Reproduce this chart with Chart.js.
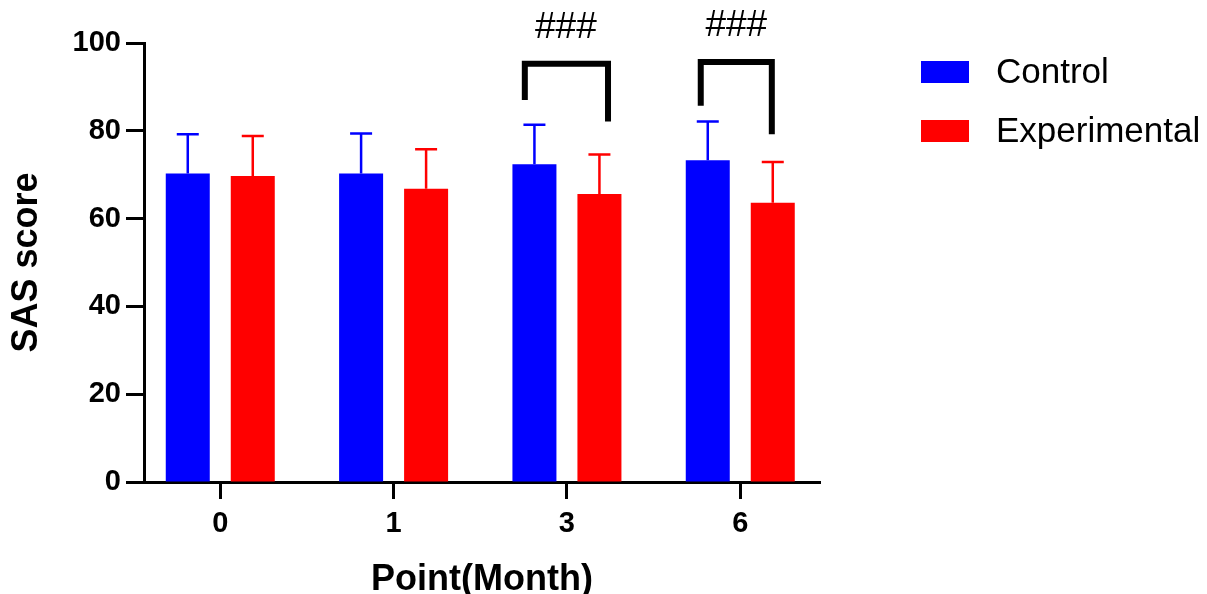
<!DOCTYPE html>
<html><head><meta charset="utf-8">
<script src="https://cdn.jsdelivr.net/npm/chart.js@4"></script>
<style>html,body{margin:0;padding:0;background:#fff}#wrap{width:1207px;height:594px;position:relative}</style>
</head><body><div id="wrap"><canvas id="c" width="1207" height="594"></canvas></div>
<script>
// ---- data ----
const categories = ['0', '1', '3', '6'];
const seriesNames = ['Control', 'Experimental'];
const controlMean = [70.3, 70.3, 72.4, 73.3];
const controlSD = [8.9, 9.1, 9.0, 8.8];
const experimentalMean = [69.7, 66.8, 65.6, 63.6];
const experimentalSD = [9.1, 9.0, 9.0, 9.3];
const yTickValues = [0, 20, 40, 60, 80, 100];
const sigLabels = ['###', '###'];
const sigCategory = [2, 3];

// significance brackets (data units: x relative to category index, y in score units)
const brackets = [
  { cat: 2, xl: -0.243, xr: 0.237, top: 95.3, leftEnd: 87.0, rightEnd: 82.1, textDx: -0.006, textY: 103.5 },
  { cat: 3, xl: -0.228, xr: 0.182, top: 95.7, leftEnd: 85.7, rightEnd: 79.2, textDx: -0.023, textY: 103.9 }
];

const FONT = "'Liberation Sans', Arial, sans-serif";
const colors = ['#0000FF', '#FF0000'];

const errorBars = {
  id: 'errorBars',
  afterDatasetsDraw(chart) {
    const ctx = chart.ctx, y = chart.scales.y;
    chart.data.datasets.forEach((ds, di) => {
      const meta = chart.getDatasetMeta(di);
      meta.data.forEach((bar, i) => {
        const top = y.getPixelForValue(ds.data[i].y + ds.sd[i]);
        ctx.save();
        ctx.strokeStyle = ds.backgroundColor;
        ctx.lineWidth = 2.5;
        ctx.beginPath();
        ctx.moveTo(bar.x, bar.y);
        ctx.lineTo(bar.x, top);
        ctx.moveTo(bar.x - 11, top);
        ctx.lineTo(bar.x + 11, top);
        ctx.stroke();
        ctx.restore();
      });
    });
  }
};

const sigPlugin = {
  id: 'sigPlugin',
  afterDraw(chart) {
    const ctx = chart.ctx, x = chart.scales.x, y = chart.scales.y;
    brackets.forEach((b, k) => {
      const xl = x.getPixelForValue(b.cat + b.xl), xr = x.getPixelForValue(b.cat + b.xr);
      ctx.save();
      ctx.strokeStyle = '#000';
      ctx.lineWidth = 6;
      ctx.lineJoin = 'miter';
      ctx.lineCap = 'butt';
      ctx.beginPath();
      ctx.moveTo(xl, y.getPixelForValue(b.leftEnd));
      ctx.lineTo(xl, y.getPixelForValue(b.top));
      ctx.lineTo(xr, y.getPixelForValue(b.top));
      ctx.lineTo(xr, y.getPixelForValue(b.rightEnd));
      ctx.stroke();
      ctx.fillStyle = '#000';
      ctx.font = '37px ' + FONT;
      ctx.textAlign = 'center';
      ctx.textBaseline = 'middle';
      ctx.fillText(sigLabels[k], x.getPixelForValue(sigCategory[k] + b.textDx), y.getPixelForValue(b.textY));
      ctx.restore();
    });
  }
};

const legendPlugin = {
  id: 'customLegend',
  afterDraw(chart) {
    const ctx = chart.ctx;
    chart.data.datasets.forEach((ds, i) => {
      const cy = 72 + i * 59;
      ctx.save();
      ctx.fillStyle = ds.backgroundColor;
      ctx.fillRect(921, cy - 11, 48, 22);
      ctx.fillStyle = '#000';
      ctx.font = '35px ' + FONT;
      ctx.textAlign = 'left';
      ctx.textBaseline = 'middle';
      ctx.fillText(ds.label, 996, cy + 1);
      ctx.restore();
    });
  }
};

new Chart(document.getElementById('c'), {
  type: 'bar',
  data: {
    datasets: [
      { label: seriesNames[0], data: controlMean.map((v, i) => ({ x: i, y: v })), sd: controlSD, backgroundColor: colors[0], borderWidth: 0 },
      { label: seriesNames[1], data: experimentalMean.map((v, i) => ({ x: i, y: v })), sd: experimentalSD, backgroundColor: colors[1], borderWidth: 0 }
    ]
  },
  options: {
    responsive: false,
    animation: false,
    devicePixelRatio: 1,
    categoryPercentage: 0.75,
    barPercentage: 0.677,
    layout: { padding: { top: 43, right: 387, bottom: 0, left: 0 } },
    plugins: { legend: { display: false }, tooltip: { enabled: false } },
    scales: {
      x: {
        type: 'linear',
        offset: false,
        min: -0.44,
        max: 3.46,
        afterBuildTicks(scale) { scale.ticks = categories.map((c, i) => ({ value: i })); },
        afterFit(scale) { scale.height = 112; },
        ticks: {
          callback: (v) => categories[v],
          font: { family: FONT, size: 29, weight: 'bold' },
          color: '#000',
          padding: 8,
          maxRotation: 0
        },
        grid: { offset: false, drawOnChartArea: false, drawTicks: true, tickLength: 17, tickWidth: 3, tickColor: '#000' },
        border: { display: true, width: 3, color: '#000' },
        title: { display: true, text: 'Point(Month)', font: { family: FONT, size: 36, weight: 'bold', lineHeight: 1.0 }, color: '#000', padding: { top: 0, bottom: -4 } }
      },
      y: {
        min: 0,
        max: 100,
        afterBuildTicks(scale) { scale.ticks = yTickValues.map(v => ({ value: v })); },
        afterFit(scale) { scale.width = 144; },
        ticks: {
          font: { family: FONT, size: 29, weight: 'bold' },
          color: '#000',
          padding: 5
        },
        grid: { drawOnChartArea: false, drawTicks: true, tickLength: 18, tickWidth: 3, tickColor: '#000' },
        border: { display: true, width: 3, color: '#000' },
        title: { display: true, text: 'SAS score', font: { family: FONT, size: 36, weight: 'bold', lineHeight: 1.0 }, color: '#000', padding: { top: 9, bottom: 0 } }
      }
    }
  },
  plugins: [errorBars, sigPlugin, legendPlugin]
});
</script></body></html>
